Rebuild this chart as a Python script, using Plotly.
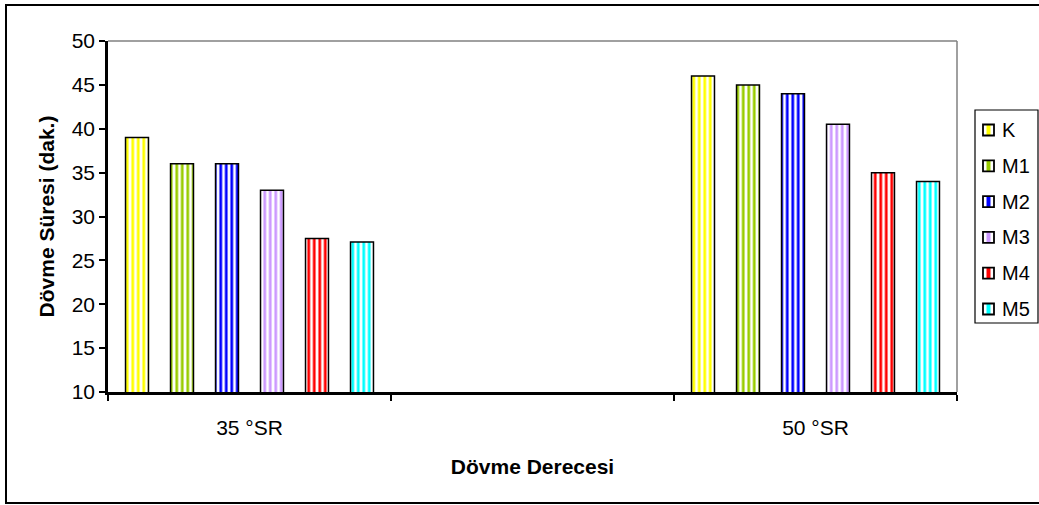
import plotly.graph_objects as go

# Dövme derecesi grupları (ortadaki kategori boş bırakılır)
categories = ["35 °SR", " ", "50 °SR"]
series_names = ["K", "M1", "M2", "M3", "M4", "M5"]
values_35 = [39.0, 36.0, 36.0, 33.0, 27.5, 27.1]
values_50 = [46.0, 45.0, 44.0, 40.5, 35.0, 34.0]
colors = ["#FFFF00", "#99CC00", "#0000FF", "#CC99FF", "#FF0000", "#00FFFF"]
y_ticks = [10, 15, 20, 25, 30, 35, 40, 45, 50]

W, H = 1039, 505
L, R, T, B = 108, 957, 41, 392  # plot area in pixels

fig = go.Figure()
for name, v35, v50, col in zip(series_names, values_35, values_50, colors):
    fig.add_trace(go.Bar(
        name=name,
        x=[categories[0], categories[2]],
        y=[v35, v50],
        marker=dict(
            color="white",
            line=dict(color="black", width=1.5),
            pattern=dict(shape="|", fgcolor=col, bgcolor="white",
                         size=5.5, solidity=0.5, fillmode="replace"),
        ),
    ))

font_family = "Liberation Sans, Arial, sans-serif"


def px_x(p):
    return (p - L) / (R - L)


def px_y(p):
    return (B - p) / (B - T)


shapes = [
    # gray frame on the top and right of the plot area
    dict(type="line", xref="paper", yref="paper", x0=0, x1=1, y0=1, y1=1,
         line=dict(color="#808080", width=1.5)),
    dict(type="line", xref="paper", yref="paper", x0=1, x1=1, y0=0, y1=1,
         line=dict(color="#808080", width=1.5)),
    # outer chart border
    dict(type="rect", xref="paper", yref="paper",
         x0=px_x(6), x1=px_x(1045), y0=px_y(503), y1=px_y(5),
         line=dict(color="black", width=2), layer="below"),
    # legend box
    dict(type="rect", xref="paper", yref="paper",
         x0=px_x(975), x1=px_x(1038), y0=px_y(323), y1=px_y(110),
         line=dict(color="black", width=1.2), fillcolor="white"),
]
annotations = []

# legend entries: small striped key + series name
leg_top, leg_step = 130, 35.8
for i, (name, col) in enumerate(zip(series_names, colors)):
    cy = leg_top + i * leg_step
    shapes.append(dict(type="rect", xref="paper", yref="paper",
                       x0=px_x(983), x1=px_x(994), y0=px_y(cy + 5.5), y1=px_y(cy - 5.5),
                       line=dict(width=0), fillcolor="white"))
    shapes.append(dict(type="rect", xref="paper", yref="paper",
                       x0=px_x(986.5), x1=px_x(990.5), y0=px_y(cy + 5.5), y1=px_y(cy - 5.5),
                       line=dict(width=0), fillcolor=col))
    shapes.append(dict(type="rect", xref="paper", yref="paper",
                       x0=px_x(983), x1=px_x(994), y0=px_y(cy + 5.5), y1=px_y(cy - 5.5),
                       line=dict(color="black", width=1.8)))
    annotations.append(dict(xref="paper", yref="paper", x=px_x(1000), y=px_y(cy),
                            xanchor="left", yanchor="middle", showarrow=False,
                            text=name, font=dict(size=20, color="black")))

fig.update_layout(
    width=W, height=H,
    margin=dict(l=L, r=W - R, t=T, b=H - B, pad=0),
    paper_bgcolor="white", plot_bgcolor="white",
    barmode="group", bargap=0.046, bargroupgap=0.49,
    font=dict(family=font_family, size=20, color="black"),
    showlegend=False,
    xaxis=dict(
        type="category", categoryorder="array", categoryarray=categories,
        range=[-0.5, 2.5], tickson="boundaries",
        ticks="outside", ticklen=6, tickwidth=2, tickcolor="black",
        showline=True, linecolor="black", linewidth=2.5,
        showgrid=False, tickfont=dict(size=21), ticklabelstandoff=15,
        title=dict(text="<b>Dövme Derecesi</b>", font=dict(size=21), standoff=22),
    ),
    yaxis=dict(
        range=[10, 50], tickvals=y_ticks,
        ticks="outside", ticklen=6, tickwidth=2, tickcolor="black",
        showline=True, linecolor="black", linewidth=2.5,
        showgrid=False, zeroline=False, tickfont=dict(size=21),
        title=dict(text="<b>Dövme Süresi (dak.)</b>", font=dict(size=21), standoff=12),
    ),
    shapes=shapes,
    annotations=annotations,
)

fig.write_html("out.html")
